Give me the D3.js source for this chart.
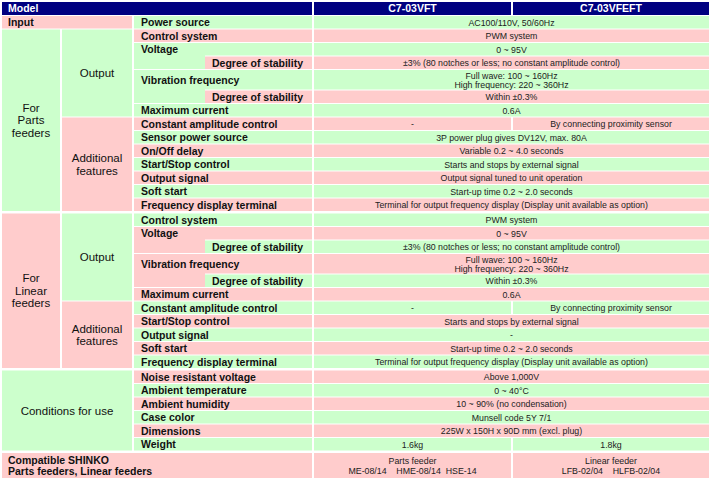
<!DOCTYPE html>
<html><head><meta charset="utf-8">
<script src="https://cdn.jsdelivr.net/npm/d3@7"></script>
<style>
body{margin:0;background:#fff}
text{font-family:"Liberation Sans",Arial,sans-serif;white-space:pre}
</style>
</head><body><svg id="c" width="713" height="480"></svg>
<script>
// ---------- data ----------
const headerLabel = "Model";
const models = ["C7-03VFT", "C7-03VFEFT"];

const sectionLabels = ["Input", "For|Parts|feeders", "For|Linear|feeders", "Conditions for use", "Compatible SHINKO|Parts feeders, Linear feeders"];
const sectionRows = [[0, 0], [1, 13], [14, 24], [25, 30], [31, 31]];

const groupLabels = ["Output", "Additional|features", "Output", "Additional|features"];
const groupRows = [[1, 6], [7, 13], [14, 19], [20, 24]];

const rowLabels = [
  "Power source",
  "Control system", "Voltage", "Degree of stability", "Vibration frequency", "Degree of stability", "Maximum current",
  "Constant amplitude control", "Sensor power source", "On/Off delay", "Start/Stop control", "Output signal", "Soft start", "Frequency display terminal",
  "Control system", "Voltage", "Degree of stability", "Vibration frequency", "Degree of stability", "Maximum current",
  "Constant amplitude control", "Start/Stop control", "Output signal", "Soft start", "Frequency display terminal",
  "Noise resistant voltage", "Ambient temperature", "Ambient humidity", "Case color", "Dimensions", "Weight",
  ""
];

const rowValues = [
  ["AC100/110V, 50/60Hz"],
  ["PWM system"],
  ["0 ~ 95V"],
  ["±3% (80 notches or less; no constant amplitude control)"],
  ["Full wave: 100 ~ 160Hz|High frequency: 220 ~ 360Hz"],
  ["Within ±0.3%"],
  ["0.6A"],
  ["-", "By connecting proximity sensor"],
  ["3P power plug gives DV12V, max. 80A"],
  ["Variable 0.2 ~ 4.0 seconds"],
  ["Starts and stops by external signal"],
  ["Output signal tuned to unit operation"],
  ["Start-up time 0.2 ~ 2.0 seconds"],
  ["Terminal for output frequency display (Display unit available as option)"],
  ["PWM system"],
  ["0 ~ 95V"],
  ["±3% (80 notches or less; no constant amplitude control)"],
  ["Full wave: 100 ~ 160Hz|High frequency: 220 ~ 360Hz"],
  ["Within ±0.3%"],
  ["0.6A"],
  ["-", "By connecting proximity sensor"],
  ["Starts and stops by external signal"],
  ["-"],
  ["Start-up time 0.2 ~ 2.0 seconds"],
  ["Terminal for output frequency display (Display unit available as option)"],
  ["Above 1,000V"],
  ["0 ~ 40°C"],
  ["10 ~ 90% (no condensation)"],
  ["Munsell code 5Y 7/1"],
  ["225W x 150H x 90D mm (excl. plug)"],
  ["1.6kg", "1.8kg"],
  ["Parts feeder|ME-08/14    HME-08/14  HSE-14", "Linear feeder|LFB-02/04    HLFB-02/04"]
];

// ---------- layout ----------
const svg = d3.select("#c");
const green = "#ccffcc", pink = "#ffcccc", navy = "#000080";
const col = d3.scaleOrdinal().domain(["c0","c1","c2","c3","c4","c5","end"]).range([2, 62, 134, 205, 314, 513, 711]);
const GX = 2, GY = 1;
const nRows = rowLabels.length;
const kind = i => i === nRows - 1 ? "compat" : (rowValues[i].some(v => v.includes("|")) ? "tall" : "normal");
const isSub = i => rowLabels[i] === "Degree of stability";
const rowH = {normal: 13.5, tall: 20.5, compat: 26};
const sectionStarts = new Set(sectionRows.slice(2).map(d => d[0]));
const tops = [];
let acc = 16;
for (let i = 0; i < nRows; i++) {
  if (sectionStarts.has(i)) acc += 1.5;
  tops.push(acc);
  acc += rowH[kind(i)];
}
const y = d3.scaleOrdinal().domain(d3.range(nRows)).range(tops);
const bot = i => y(i) + rowH[kind(i)];
const rowColor = i => i % 2 === 0 ? green : pink;

const gRect = svg.append("g"), gText = svg.append("g");
function cell(x0, x1, y0, y1, fill, noGapX) {
  gRect.append("rect").attr("x", x0).attr("y", y0)
    .attr("width", x1 - x0 - (noGapX ? 0 : GX)).attr("height", y1 - y0 - GY).attr("fill", fill);
}
function txt(str, x, cy, opts) {
  const lines = str.split("|");
  const lh = opts.lh || 12.5;
  const t = gText.append("text").attr("x", x)
    .attr("text-anchor", opts.anchor || "start")
    .attr("font-size", opts.size).attr("font-weight", opts.bold ? "bold" : "normal")
    .attr("fill", opts.fill || "#111");
  lines.forEach((l, k) => {
    t.append("tspan").attr("x", x)
      .attr("y", cy - (lines.length - 1) * lh / 2 + k * lh + opts.dy)
      .text(l);
  });
}

// header
cell(col("c0"), col("c4"), 2, 16, navy);
cell(col("c4"), col("c5"), 2, 16, navy);
cell(col("c5"), col("end"), 2, 16, navy);
txt(headerLabel, 8, 8.5, {size: 10.5, bold: true, fill: "#fff", dy: 3.8});
models.forEach((m, k) => {
  const a = col(k ? "c5" : "c4"), b = col(k ? "end" : "c5");
  txt(m, (a + b - GX) / 2, 8.5, {size: 10.5, bold: true, fill: "#fff", anchor: "middle", dy: 3.8});
});

// sections (first column)
const sectionSpan = ["c2", "c1", "c1", "c2", "c4"];
sectionRows.forEach(([r0, r1], s) => {
  const x1 = col(sectionSpan[s]);
  const y0 = y(r0), y1 = bot(r1);
  cell(col("c0"), x1, y0, y1, s % 2 === 0 ? pink : green);
  const left = s === 0 || s === sectionRows.length - 1;
  const cy = (y0 + y1 - GY) / 2;
  txt(sectionLabels[s], left ? 8 : (col("c0") + x1 - GX) / 2, cy,
      left ? {size: 10.5, bold: true, anchor: "start", dy: 3.8, lh: 11.5}
           : {size: 11.5, bold: false, anchor: "middle", dy: 4.1, lh: 12.5});
});

// groups (second column)
groupRows.forEach(([r0, r1], g) => {
  const y0 = y(r0), y1 = bot(r1);
  cell(col("c1"), col("c2"), y0, y1, g % 2 === 0 ? green : pink);
  txt(groupLabels[g], (col("c1") + col("c2") - GX) / 2, (y0 + y1 - GY) / 2, {size: 11.5, anchor: "middle", dy: 4.1, lh: 12.5});
});

// row labels
for (let i = 0; i < nRows; i++) {
  if (kind(i) === "compat") continue;
  const c = rowColor(i), y0 = y(i), y1 = bot(i);
  const cy = (y0 + y1 - GY) / 2;
  if (isSub(i)) {
    cell(col("c3"), col("c4"), y0, y1, c);
    txt(rowLabels[i], col("c3") + 7, cy, {size: 10.5, bold: true, dy: 3.9});
  } else if (i + 1 < nRows && isSub(i + 1)) {
    cell(col("c2"), col("c3"), y0, bot(i + 1), c, true);
    cell(col("c3"), col("c4"), y0, y1, c);
    txt(rowLabels[i], col("c2") + 7, cy, {size: 10.5, bold: true, dy: 3.9});
  } else {
    cell(col("c2"), col("c4"), y0, y1, c);
    txt(rowLabels[i], col("c2") + 7, cy, {size: 10.5, bold: true, dy: 3.9});
  }
}

// values
for (let i = 0; i < nRows; i++) {
  const c = rowColor(i), y0 = y(i), y1 = bot(i), vals = rowValues[i];
  const spans = vals.length === 1 ? [["c4", "end"]] : [["c4", "c5"], ["c5", "end"]];
  vals.forEach((v, k) => {
    const a = col(spans[k][0]), b = col(spans[k][1]);
    cell(a, b, y0, y1, c);
    const lh = kind(i) === "compat" ? 10 : 9.2;
    txt(v, (a + b - GX) / 2, (y0 + y1 - GY) / 2, {size: 8.8, anchor: "middle", dy: 3.4, lh: lh, fill: "#222"});
  });
}
</script>
</body></html>
